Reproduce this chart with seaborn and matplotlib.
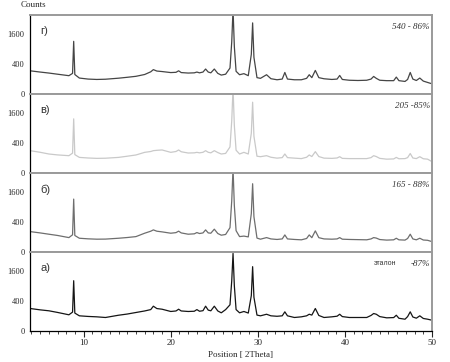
import numpy as np
import pandas as pd
import matplotlib
matplotlib.use("Agg")
import matplotlib.pyplot as plt
import seaborn as sns

# Положения (2Theta) общие для всех образцов
two_theta = [3.85, 5, 6, 7, 8.3, 8.72, 8.85, 8.98, 9.5, 10.5, 11.5, 12.5, 14, 15, 16, 17,
             17.7, 18.0, 18.4, 19, 20, 20.6, 20.9, 21.2, 22, 22.7, 23.0, 23.3, 23.7, 24.0,
             24.3, 24.6, 25.0, 25.4, 25.8, 26.3, 26.8, 27.0, 27.15, 27.3, 27.5, 27.9, 28.4,
             28.9, 29.25, 29.4, 29.55, 29.9, 30.3, 31.0, 31.5, 32.2, 32.8, 33.1, 33.4, 34.2,
             35.0, 35.6, 35.9, 36.2, 36.6, 37.0, 37.6, 38.5, 39.1, 39.4, 39.7, 40.5, 41.5,
             42.5, 43.0, 43.3, 43.6, 44.0, 44.8, 45.6, 45.9, 46.2, 46.9, 47.2, 47.5, 47.8,
             48.2, 48.6, 49.0, 49.5, 50.0]

counts_g = [240, 215, 196, 175, 150, 190, 1230, 170, 114, 100, 95, 98, 112, 125, 140, 170,
            220, 265, 235, 225, 205, 210, 240, 205, 196, 200, 215, 200, 215, 278,
            215, 200, 278, 190, 160, 175, 300, 1200, 3200, 1000, 230, 166, 185,
            150, 700, 2240, 600, 120, 110, 166, 105, 91, 100, 207, 100, 91,
            91, 110, 166, 120, 248, 120, 104, 95, 100, 154, 95, 85, 82,
            85, 100, 138, 110, 85, 80, 80, 128, 80, 71, 95, 207, 100,
            82, 114, 75, 60, 47]

counts_v = [221, 190, 160, 145, 133, 175, 1296, 150, 108, 100, 95, 97, 108, 125, 144, 189,
            205, 221, 228, 235, 189, 205, 235, 200, 177, 180, 189, 180, 190, 221,
            190, 180, 221, 185, 160, 170, 300, 1200, 3200, 1000, 230, 160, 189,
            160, 700, 2215, 600, 125, 118, 133, 110, 98, 105, 160, 105, 98,
            92, 110, 144, 120, 202, 120, 98, 95, 100, 118, 95, 92, 92,
            92, 105, 133, 120, 95, 85, 88, 108, 90, 92, 105, 168, 100,
            92, 118, 90, 85, 57]

counts_b = [183, 160, 139, 120, 91, 130, 1234, 120, 83, 76, 72, 73, 83, 92, 104, 155,
            190, 215, 190, 178, 155, 165, 191, 160, 139, 145, 166, 150, 160, 215,
            160, 155, 229, 150, 124, 135, 260, 1150, 3100, 950, 200, 104, 111,
            100, 650, 2055, 550, 85, 72, 91, 75, 69, 75, 128, 75, 69,
            65, 80, 128, 90, 196, 90, 75, 72, 75, 91, 72, 69, 67,
            65, 75, 91, 85, 68, 62, 65, 83, 65, 62, 80, 139, 75,
            65, 83, 63, 60, 47]

counts_a = [221, 195, 178, 150, 114, 155, 1111, 140, 100, 92, 87, 79, 108, 125, 149, 175,
            200, 269, 220, 207, 166, 175, 207, 175, 166, 170, 200, 170, 180, 269,
            190, 178, 269, 175, 144, 200, 300, 1100, 2650, 900, 200, 144, 166,
            140, 550, 1820, 500, 110, 100, 122, 100, 94, 100, 160, 100, 79,
            87, 100, 122, 110, 221, 105, 79, 87, 95, 122, 90, 79, 79,
            79, 105, 133, 122, 90, 75, 78, 108, 70, 60, 90, 160, 85,
            71, 100, 68, 60, 50]

panel_names = ["г)", "в)", "б)", "а)"]
right_notes = ["540 - 86%", "205 -85%", "165 - 88%", "-87%"]
series = [counts_g, counts_v, counts_b, counts_a]
colors = ["#454545", "#c9c9c9", "#6e6e6e", "#151515"]

sns.set_style("white")
plt.rcParams["font.family"] = ["Liberation Serif", "DejaVu Serif"]

fig, axes = plt.subplots(4, 1, figsize=(4.5, 3.62), dpi=100, sharex=True)
fig.subplots_adjust(left=0.067, right=0.96, top=0.958, bottom=0.086, hspace=0)

def fwd(v):
    return np.sqrt(np.clip(v, 0, None))

def inv(v):
    return np.asarray(v) ** 2

for i, ax in enumerate(axes):
    df = pd.DataFrame({"pos": two_theta, "counts": series[i]})
    sns.lineplot(data=df, x="pos", y="counts", ax=ax, color=colors[i], lw=0.9)
    ax.set_yscale("function", functions=(fwd, inv))
    ax.set_ylim(0, 2750)
    ax.set_xlim(3.85, 50)
    ax.set_yticks([0, 400, 1600])
    ax.set_yticklabels(["0", "400", "1600"])
    ax.tick_params(axis="y", direction="out", length=3, width=0.8, labelsize=6, pad=1)
    ax.set_xlabel("")
    ax.set_ylabel("")
    for side in ["top", "bottom", "right"]:
        ax.spines[side].set_color("#9a9a9a")
        ax.spines[side].set_linewidth(1.4)
    ax.spines["left"].set_color("black")
    ax.spines["left"].set_linewidth(0.9)
    ax.text(0.025, 0.86, panel_names[i], transform=ax.transAxes, fontsize=8,
            family="Liberation Sans", va="top", ha="left", color="#333333")
    ax.text(0.995, 0.90, right_notes[i], transform=ax.transAxes, fontsize=6.5,
            style="italic", va="top", ha="right", color="#333333")

axes[3].text(0.91, 0.895, "эталон", transform=axes[3].transAxes, fontsize=5,
             family="Liberation Sans", va="top", ha="right", color="#333333")

bottom = axes[3]
bottom.spines["bottom"].set_color("black")
bottom.spines["bottom"].set_linewidth(0.9)
bottom.set_xticks([10, 20, 30, 40, 50])
bottom.set_xticks(np.arange(4, 51, 1), minor=True)
bottom.tick_params(axis="x", which="major", direction="out", length=4, width=0.8,
                   labelsize=6.5, pad=2, bottom=True)
bottom.tick_params(axis="x", which="minor", direction="out", length=2.5, width=0.6,
                   bottom=True)
for ax in axes[:3]:
    ax.tick_params(axis="x", which="both", bottom=False, labelbottom=False)

fig.text(0.045, 0.985, "Counts", fontsize=6.5, ha="left", va="center")
fig.text(0.535, 0.02, "Position [ 2Theta]", fontsize=6.5, ha="center", va="center")

fig.savefig("out.png", dpi=100)
